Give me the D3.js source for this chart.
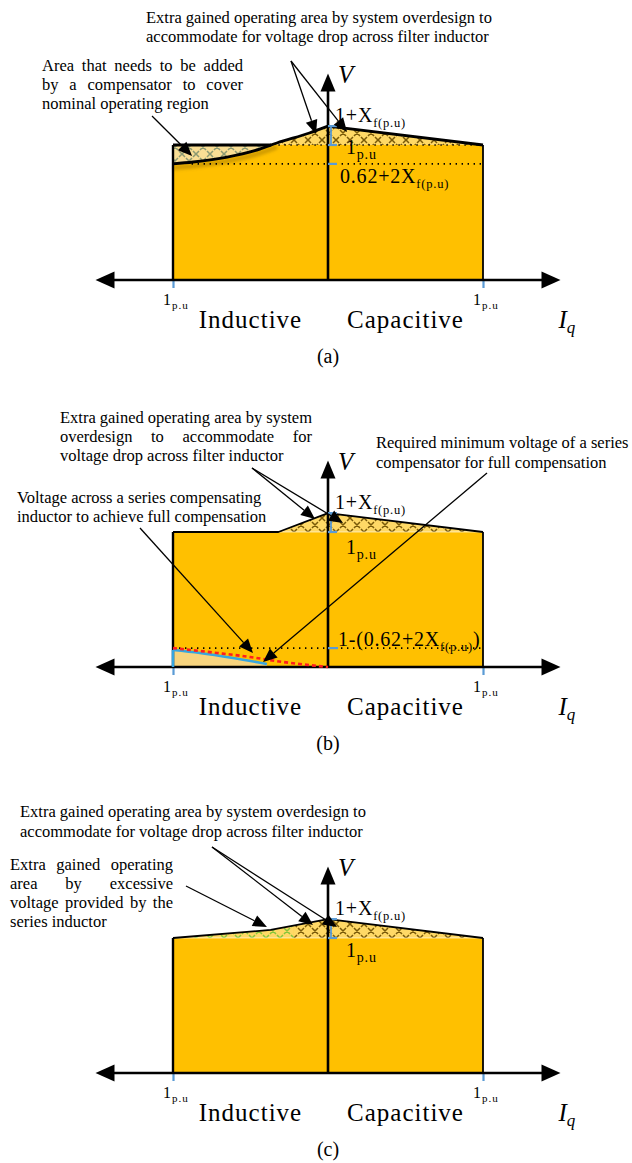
<!DOCTYPE html>
<html>
<head>
<meta charset="utf-8">
<script src="https://cdn.jsdelivr.net/npm/d3@7"></script>
<style>
  html, body { margin: 0; background: #fff; }
  svg { display: block; }
  text { font-family: "Liberation Serif", "Times New Roman", Times, serif; fill: #000; }
</style>
</head>
<body>
<svg id="chart" width="632" height="1163"></svg>
<script>
// ---------- values (Iq and V in per unit) ----------
const iqTicks = [-1, 1];
const iqAxisExtent = 1.5;
const vAxisTop = 1.53;

const vPeak = 1.14;     // 1 + Xf(p.u)
const vNominal = 1.0;   // 1 p.u
const vLowA = 0.86;     // 0.62 + 2Xf(p.u)
const vLowB = 0.14;     // 1 - (0.62 + 2Xf(p.u))

// upper edge of the operating region, [Iq, V]
const boundaryACurve = [[-1, 0.86], [-0.87, 0.874], [-0.65, 0.911], [-0.44, 0.97], [-0.33, 1.015], [-0.12, 1.089], [0, 1.14]];
const boundaryATail = [[1, 1.0]];
const boundaryB = [[-1, 1.0], [-0.32, 1.0], [0, 1.14], [1, 1.0]];
const boundaryC = [[-1, 1.0], [-0.37, 1.06], [0, 1.14], [1, 1.0]];
const seriesInductorV = [[-1, 0.126], [-0.826, 0.104], [-0.613, 0.067], [-0.394, 0.022]];
const requiredSeriesV = [[-1, 0.14], [-0.716, 0.104], [-0.503, 0.074], [-0.29, 0.037], [0, 0]];

const regionNames = ["Inductive", "Capacitive"];
const panelTags = ["(a)", "(b)", "(c)"];
const peakLabel = ["1+X", "f(p.u)"];
const nominalLabel = ["1", "p.u"];
const lowLabelA = ["0.62+2X", "f(p.u)"];
const lowLabelB = ["1-(0.62+2X", "f(p.u)", ")"];
const iqTickLabel = ["1", "p.u"];

const noteOverdesignA = ["Extra gained operating area by system overdesign to", "accommodate for voltage drop across filter inductor"];
const noteCompensatorA = ["Area that needs to be added", "by a compensator to cover", "nominal operating region"];
const noteOverdesignB = ["Extra gained operating area by system", "overdesign to accommodate for", "voltage drop across filter inductor"];
const noteSeriesMinB = ["Required minimum voltage of a series", "compensator for full compensation"];
const noteInductorB = ["Voltage across a series compensating", "inductor to achieve full compensation"];
const noteOverdesignC = ["Extra gained operating area by system overdesign to", "accommodate for voltage drop across filter inductor"];
const noteExcessC = ["Extra gained operating", "area by excessive", "voltage provided by the", "series inductor"];

// ---------- layout ----------
const unitPx = 135;
const axisRows = [280, 667, 1073];
const x = d3.scaleLinear().domain([-1, 1]).range([173, 483]);
const yFor = row => d3.scaleLinear().domain([0, 1]).range([row, row - unitPx]);
const C = {
  fill: "#FFC000", hatchBg: "#FFD966", hatchInk: "#7A5A08",
  compBg: "#F9DE95", compInk: "#8C9A72", greenInk: "#86C63A",
  blue: "#5B9BD5", cyan: "#37A6E0", red: "#FF1E1E"
};
const noteSize = 16.5;

const svg = d3.select("#chart");
const defs = svg.append("defs");

// lattice of small crosses used for the hatched areas
function hatch(id, bg, ink) {
  const s = 14, h = 3;
  const p = defs.append("pattern").attr("id", id).attr("patternUnits", "userSpaceOnUse")
    .attr("width", s).attr("height", s);
  p.append("rect").attr("width", s).attr("height", s).attr("fill", bg);
  const centres = [[s / 2, s / 2], [0, 0], [s, 0], [0, s], [s, s]];
  const d = centres.map(([cx, cy]) =>
    `M${cx - h},${cy - h}L${cx + h},${cy + h}M${cx + h},${cy - h}L${cx - h},${cy + h}`).join("");
  p.append("path").attr("d", d).attr("stroke", ink).attr("stroke-width", 1.5);
}
hatch("hatchCross", C.hatchBg, C.hatchInk);
hatch("hatchComp", C.compBg, C.compInk);
hatch("hatchGreen", C.hatchBg, C.greenInk);

const blur = defs.append("filter").attr("id", "soft")
  .attr("x", "-10%").attr("y", "-200%").attr("width", "120%").attr("height", "500%");
blur.append("feGaussianBlur").attr("stdDeviation", 1.8);

// ---------- helpers ----------
function arrowHead(g, x1, y1, x2, y2, len, half) {
  const a = Math.atan2(y2 - y1, x2 - x1);
  const bx = x2 - len * Math.cos(a), by = y2 - len * Math.sin(a);
  const px = -Math.sin(a) * half, py = Math.cos(a) * half;
  g.append("path").attr("d", `M${x2},${y2}L${bx + px},${by + py}L${bx - px},${by - py}Z`).attr("fill", "#000");
}
function leader(g, x1, y1, x2, y2) {
  const len = 14, a = Math.atan2(y2 - y1, x2 - x1);
  g.append("line").attr("x1", x1).attr("y1", y1)
    .attr("x2", x2 - len * Math.cos(a)).attr("y2", y2 - len * Math.sin(a))
    .attr("stroke", "#000").attr("stroke-width", 1.3);
  arrowHead(g, x1, y1, x2, y2, len, 6);
}
function plainLines(g, lines, x0, y0, lh) {
  lines.forEach((s, i) => g.append("text").attr("x", x0).attr("y", y0 + i * lh)
    .attr("font-size", noteSize).text(s));
}
function justifiedLines(g, lines, x0, y0, lh, width) {
  lines.forEach((s, i) => {
    const yb = y0 + i * lh;
    if (i === lines.length - 1) {
      g.append("text").attr("x", x0).attr("y", yb).attr("font-size", noteSize).text(s);
      return;
    }
    const words = s.split(" ");
    const nodes = words.map(w => g.append("text").attr("y", yb).attr("font-size", noteSize).text(w));
    const widths = nodes.map(n => n.node().getComputedTextLength());
    const gap = (width - d3.sum(widths)) / (words.length - 1);
    let cx = x0;
    nodes.forEach((n, k) => { n.attr("x", cx); cx += widths[k] + gap; });
  });
}
function subText(g, x0, yb, parts, size, subSize, spacing) {
  const t = g.append("text").attr("x", x0).attr("y", yb).attr("font-size", size)
    .attr("letter-spacing", spacing);
  t.append("tspan").text(parts[0]);
  if (parts[1]) t.append("tspan").attr("font-size", subSize).attr("dy", size * 0.25).text(parts[1]);
  if (parts[2]) t.append("tspan").attr("dy", -size * 0.25).text(parts[2]);
}
function hLine(g, v, i0, i1, y) {
  return g.append("line").attr("x1", x(i0)).attr("x2", x(i1)).attr("y1", y(v)).attr("y2", y(v));
}
function vLine(g, iq, v0, v1, y) {
  return g.append("line").attr("x1", x(iq)).attr("x2", x(iq)).attr("y1", y(v0)).attr("y2", y(v1));
}
function shapeOf(topPath, y) {
  return `M${x(-1)},${y(0)}` + topPath.replace(/^M/, "L") + `L${x(1)},${y(0)}Z`;
}
function clipFor(id, d) {
  defs.append("clipPath").attr("id", id).append("path").attr("d", d);
  return `url(#${id})`;
}
function overdesignHatch(g, y, clip, i0, i1, pattern) {
  g.append("rect").attr("x", x(i0)).attr("width", x(i1) - x(i0))
    .attr("y", y(vAxisTop)).attr("height", y(vNominal) - y(vAxisTop))
    .attr("fill", `url(#${pattern})`).attr("clip-path", clip);
}
function edges(g, y, topPath, topWidth) {
  g.append("path").attr("d", topPath).attr("fill", "none").attr("stroke", "#000")
    .attr("stroke-width", topWidth).attr("stroke-linejoin", "round");
  vLine(g, -1, 0, vNominal, y).attr("stroke", "#000").attr("stroke-width", 2.4);
  vLine(g, 1, 0, vNominal, y).attr("stroke", "#000").attr("stroke-width", 1.8);
}
function dotted(g, v, i0, i1, y) {
  hLine(g, v, i0, i1, y).attr("stroke", "#000").attr("stroke-width", 1.6)
    .attr("stroke-dasharray", "1.4,4.6");
}
function vMarks(g, y, levels) {
  levels.forEach(v => g.append("line").attr("x1", x(0)).attr("x2", x(0) + 9)
    .attr("y1", y(v)).attr("y2", y(v)).attr("stroke", C.blue).attr("stroke-width", 2.2));
  g.append("line").attr("x1", x(0) + 3).attr("x2", x(0) + 3)
    .attr("y1", y(vPeak)).attr("y2", y(vNominal)).attr("stroke", C.blue).attr("stroke-width", 1.8);
}
function axesFrame(g, y, row, tag) {
  const ticks = g.append("g").attr("transform", `translate(0,${row})`)
    .call(d3.axisBottom(x).tickValues(iqTicks).tickSize(8).tickFormat(() => ""));
  ticks.select(".domain").remove();
  ticks.selectAll(".tick line").attr("stroke", C.blue).attr("stroke-width", 2.2);

  const xl = x(-iqAxisExtent), xr = x(iqAxisExtent);
  g.append("line").attr("x1", xl + 10).attr("x2", xr - 10).attr("y1", row).attr("y2", row)
    .attr("stroke", "#000").attr("stroke-width", 2.6);
  arrowHead(g, xr - 20, row, xr, row, 19, 8.5);
  arrowHead(g, xl + 20, row, xl, row, 19, 8.5);

  const yt = y(vAxisTop);
  g.append("line").attr("x1", x(0)).attr("x2", x(0)).attr("y1", row).attr("y2", yt + 10)
    .attr("stroke", "#000").attr("stroke-width", 2.6);
  arrowHead(g, x(0), yt + 20, x(0), yt, 18, 7.5);

  iqTicks.forEach(t => subText(g, x(t) - 10, row + 25, iqTickLabel, 16, 11, 1));
  g.append("text").attr("x", x(-0.5)).attr("y", row + 48).attr("text-anchor", "middle")
    .attr("font-size", 25).attr("letter-spacing", 1).text(regionNames[0]);
  g.append("text").attr("x", x(0.5)).attr("y", row + 48).attr("text-anchor", "middle")
    .attr("font-size", 25).attr("letter-spacing", 1).text(regionNames[1]);

  const iq = g.append("text").attr("x", xr - 2).attr("y", row + 48)
    .attr("font-size", 25).attr("font-style", "italic");
  iq.append("tspan").text("I");
  iq.append("tspan").attr("font-size", 17).attr("dy", 5).text("q");

  g.append("text").attr("x", x(0) + 10).attr("y", yt + 10)
    .attr("font-size", 25).attr("font-style", "italic").text("V");
  g.append("text").attr("x", x(0)).attr("y", row + 83).attr("text-anchor", "middle")
    .attr("font-size", 20).text(tag);
}

// ---------- panel (a): without compensation ----------
{
  const row = axisRows[0], y = yFor(row), g = svg.append("g");
  const curveLine = d3.line().x(d => x(d[0])).y(d => y(d[1])).curve(d3.curveMonotoneX);
  const topPath = curveLine(boundaryACurve) + boundaryATail.map(p => `L${x(p[0])},${y(p[1])}`).join("");
  const shape = shapeOf(topPath, y);

  // area missing below the nominal level on the inductive side
  g.append("rect").attr("x", x(-1)).attr("width", x(-0.3) - x(-1))
    .attr("y", y(vNominal)).attr("height", y(vLowA - 0.04) - y(vNominal))
    .attr("fill", "url(#hatchComp)");
  g.append("path").attr("d", shape).attr("fill", C.fill);
  overdesignHatch(g, y, clipFor("clipA", shape), -1, 1, "hatchCross");

  // soft shadow under the bent edge
  g.append("path").attr("d", curveLine(boundaryACurve.filter(d => d[0] <= -0.3)))
    .attr("transform", "translate(0,4)").attr("fill", "none")
    .attr("stroke", "#7A5800").attr("stroke-opacity", 0.35).attr("stroke-width", 5)
    .attr("filter", "url(#soft)");
  g.append("line").attr("x1", x(-1)).attr("x2", x(0)).attr("y1", row + 3).attr("y2", row + 3)
    .attr("stroke", "#9EC4EA").attr("stroke-width", 4).attr("opacity", 0.7).attr("filter", "url(#soft)");

  dotted(g, vNominal, -0.32, 1, y);
  dotted(g, vLowA, -0.88, 1, y);
  edges(g, y, topPath, 2.8);
  hLine(g, vNominal, -1, -0.367, y).attr("stroke", "#000").attr("stroke-width", 2.8);

  axesFrame(g, y, row, panelTags[0]);
  vMarks(g, y, [vPeak, vNominal, vLowA]);

  subText(g, x(0) + 7, y(vPeak) - 4, peakLabel, 20, 12.5, 0.8);
  subText(g, x(0) + 18, y(vNominal) + 9, nominalLabel, 20, 14, 0.8);
  subText(g, x(0) + 12, y(vLowA) + 19, lowLabelA, 20, 12.5, 0.8);

  plainLines(g, noteOverdesignA, 146, 23, 19);
  justifiedLines(g, noteCompensatorA, 42, 71, 19, 201);
  leader(g, 152, 116, x(-0.877), y(0.919));
  leader(g, 291, 61, x(-0.077), y(1.081));
  leader(g, 291, 61, x(0.123), y(1.096));
}

// ---------- panel (b): full series compensation ----------
{
  const row = axisRows[1], y = yFor(row), g = svg.append("g");
  const topPath = d3.line().x(d => x(d[0])).y(d => y(d[1]))(boundaryB);
  const shape = shapeOf(topPath, y);

  g.append("path").attr("d", shape).attr("fill", C.fill);
  overdesignHatch(g, y, clipFor("clipB", shape), -1, 1, "hatchCross");
  hLine(g, vNominal, -0.32, 1, y).attr("stroke", "#fff").attr("stroke-opacity", 0.6).attr("stroke-width", 1.2);

  const inductorArea = d3.area().x(d => x(d[0])).y0(y(0)).y1(d => y(d[1])).curve(d3.curveMonotoneX);
  g.append("path").attr("d", inductorArea(seriesInductorV)).attr("fill", "#F7D47E");

  edges(g, y, topPath, 1.8);
  dotted(g, vLowB, -1, 1, y);
  g.append("line").attr("x1", x(-1)).attr("x2", x(seriesInductorV[seriesInductorV.length - 1][0]))
    .attr("y1", row + 4).attr("y2", row + 4).attr("stroke", "#6FB3E8").attr("stroke-width", 3)
    .attr("stroke-dasharray", "9,4").attr("opacity", 0.8).attr("filter", "url(#soft)");

  axesFrame(g, y, row, panelTags[1]);

  vLine(g, -1, 0, seriesInductorV[0][1], y).attr("stroke", C.cyan).attr("stroke-width", 2.6);
  const curve = d3.line().x(d => x(d[0])).y(d => y(d[1])).curve(d3.curveMonotoneX);
  g.append("path").attr("d", curve(seriesInductorV)).attr("fill", "none")
    .attr("stroke", C.cyan).attr("stroke-width", 2.6);
  g.append("path").attr("d", curve(requiredSeriesV)).attr("fill", "none")
    .attr("stroke", C.red).attr("stroke-width", 2.6).attr("stroke-dasharray", "4,3");

  vMarks(g, y, [vPeak, vNominal]);
  g.append("line").attr("x1", x(0)).attr("x2", x(0) + 10).attr("y1", y(vLowB)).attr("y2", y(vLowB))
    .attr("stroke", C.blue).attr("stroke-width", 2.2);

  subText(g, x(0) + 7, y(vPeak) - 4, peakLabel, 20, 12.5, 0.8);
  subText(g, x(0) + 18, y(vNominal) + 22, nominalLabel, 20, 14, 0.8);
  subText(g, x(0) + 10, y(vLowB) - 2, lowLabelB, 20, 12.5, 0.8);

  justifiedLines(g, noteOverdesignB, 60, 423, 19, 252);
  plainLines(g, noteSeriesMinB, 376, 448, 20);
  plainLines(g, noteInductorB, 17, 503, 19);
  leader(g, 252, 468, x(-0.084), y(1.096));
  leader(g, 252, 468, x(0.097), y(1.067));
  leader(g, 140, 528, x(-0.484), y(0.104));
  leader(g, 487, 473, x(-0.419), y(0.037));
}

// ---------- panel (c): with series inductor ----------
{
  const row = axisRows[2], y = yFor(row), g = svg.append("g");
  const topPath = d3.line().x(d => x(d[0])).y(d => y(d[1]))(boundaryC);
  const shape = shapeOf(topPath, y);

  g.append("path").attr("d", shape).attr("fill", C.fill);
  const clip = clipFor("clipC", shape);
  overdesignHatch(g, y, clip, -1, -0.22, "hatchGreen");
  overdesignHatch(g, y, clip, -0.22, 1, "hatchCross");
  hLine(g, vNominal, -1, 1, y).attr("stroke", "#fff").attr("stroke-opacity", 0.6).attr("stroke-width", 1.2);

  edges(g, y, topPath, 1.8);
  axesFrame(g, y, row, panelTags[2]);
  vMarks(g, y, [vPeak, vNominal]);

  subText(g, x(0) + 7, y(vPeak) - 4, peakLabel, 20, 12.5, 0.8);
  subText(g, x(0) + 18, y(vNominal) + 19, nominalLabel, 20, 14, 0.8);

  plainLines(g, noteOverdesignC, 20, 817, 19.5);
  justifiedLines(g, noteExcessC, 10, 870, 19, 163);
  leader(g, 212, 847, x(-0.097), y(1.096));
  leader(g, 212, 847, x(0.058), y(1.081));
  leader(g, 186, 886, x(-0.394), y(1.081));
}
</script>
</body>
</html>
